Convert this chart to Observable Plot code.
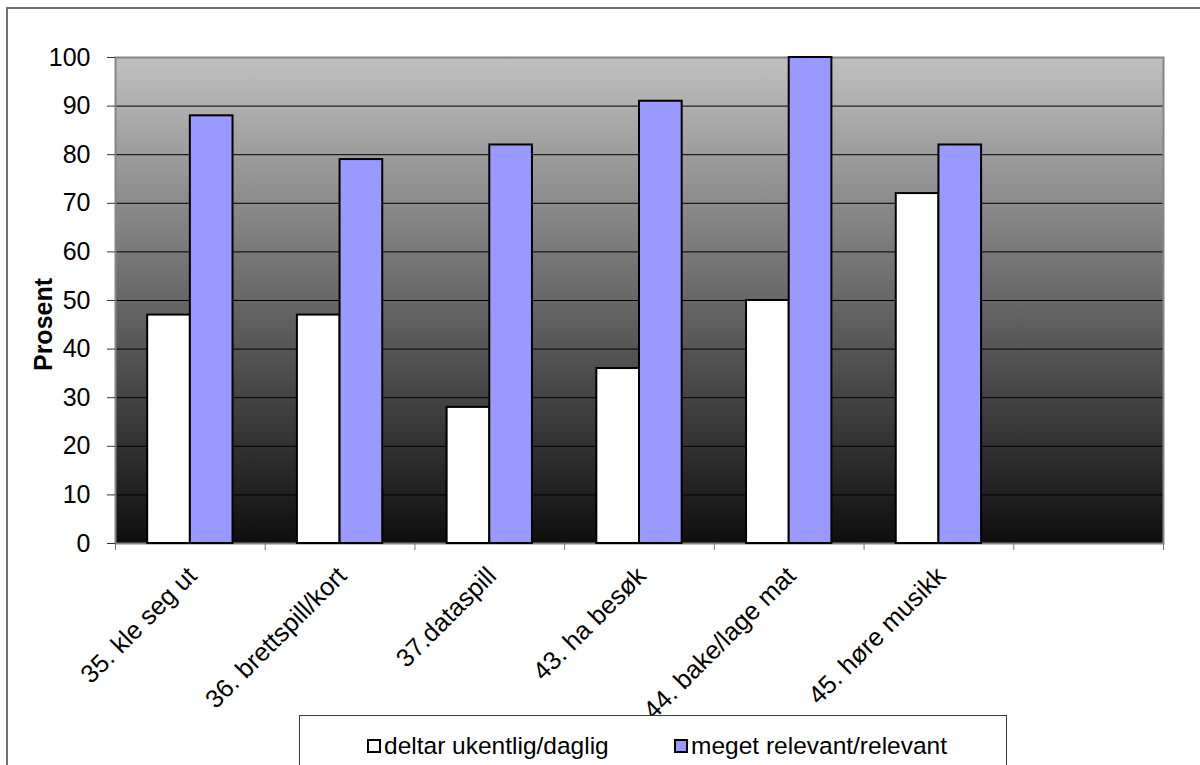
<!DOCTYPE html>
<html>
<head>
<meta charset="utf-8">
<script src="https://cdn.jsdelivr.net/npm/d3@7"></script>
<script src="https://cdn.jsdelivr.net/npm/@observablehq/plot@0.6"></script>
<style>
  html, body { margin: 0; padding: 0; background: #fff; width: 1200px; height: 765px; overflow: hidden; }
  .outer { position: absolute; left: 6px; top: 7px; width: 1300px; height: 900px; border: 2px solid #707070; box-sizing: border-box; }
  #chart { position: absolute; left: 0; top: 0; }
  .legend { position: absolute; left: 299px; top: 715px; width: 708px; height: 90px; box-sizing: border-box;
            border: 1px solid #3a3a3a; background: #fff; font-family: "Liberation Sans", Arial, sans-serif; font-size: 24.5px; color: #000; }
  .item { position: absolute; top: 16px; line-height: 28px; display: flex; align-items: center; white-space: nowrap; }
  .sw { width: 10px; height: 10px; border: 2px solid #000; margin-right: 3px; flex: none; }
</style>
</head>
<body>
<div class="outer"></div>
<div id="chart"></div>
<div class="legend" id="legend"></div>
<script>
// Activities and the two answer groups (percent)
const categories = ["35. kle seg ut", "36. brettspill/kort", "37.dataspill", "43. ha besøk", "44. bake/lage mat", "45. høre musikk", ""];
const series = ["deltar ukentlig/daglig", "meget relevant/relevant"];
const weekly = [47, 47, 28, 36, 50, 72];
const relevant = [88, 79, 82, 91, 100, 82];
const yTicks = [0, 10, 20, 30, 40, 50, 60, 70, 80, 90, 100];
const seriesColors = ["#ffffff", "#9999ff"];

// Long table: one row per bar; each category occupies one unit on x,
// the two bars sit side by side around the unit's centre.
const rows = [];
weekly.forEach((v, i) => rows.push({cat: categories[i], idx: i, series: series[0], value: v, x1: i + 0.215, x2: i + 0.5}));
relevant.forEach((v, i) => rows.push({cat: categories[i], idx: i, series: series[1], value: v, x1: i + 0.5, x2: i + 0.785}));

const font = "Liberation Sans, Arial, sans-serif";

const svg = Plot.plot({
  width: 1200,
  height: 700,
  marginLeft: 115,
  marginRight: 37,
  marginTop: 57,
  marginBottom: 157,
  style: {fontFamily: font, fontSize: "25px", color: "#000", background: "transparent", overflow: "visible"},
  x: {domain: [0, categories.length], axis: null},
  y: {domain: [0, 100], axis: null},
  color: {type: "ordinal", domain: series, range: seriesColors},
  marks: [
    Plot.frame({fill: "url(#plotBg)", stroke: "none"}),
    Plot.ruleY(yTicks.filter(d => d > 0 && d < 100), {stroke: "#000", strokeWidth: 1}),
    Plot.frame({stroke: "#858585", strokeWidth: 2}),
    Plot.rectY(rows, {x1: "x1", x2: "x2", y1: 0, y2: "value", fill: "series", stroke: "#000", strokeWidth: 2}),
    Plot.axisY({ticks: yTicks, tickSize: 8, tickPadding: 17, fontSize: 25, stroke: "#333", label: null}),
    Plot.axisX({ticks: d3.range(0, categories.length + 1), tickSize: 7, tickFormat: () => "", stroke: "#777", label: null}),
    Plot.text(categories, {x: (d, i) => i + 0.5, y: 0, rotate: -45, textAnchor: "end", lineAnchor: "bottom",
                           dx: 8, dy: 34, fontSize: 25.5, fill: "#000"}),
    Plot.text(["Prosent"], {frameAnchor: "left", rotate: -90, textAnchor: "middle", dx: -72, dy: 24,
                            fontWeight: "bold", fontSize: 25, fill: "#000"})
  ]
});

// Vertical grey-to-black fill for the plot area
const defs = document.createElementNS("http://www.w3.org/2000/svg", "defs");
defs.innerHTML = '<linearGradient id="plotBg" x1="0" y1="0" x2="0" y2="1">' +
  '<stop offset="0" stop-color="#c0c0c0"/><stop offset="1" stop-color="#0e0e0e"/></linearGradient>';
svg.prepend(defs);
document.getElementById("chart").appendChild(svg);

// Legend box
const legend = document.getElementById("legend");
const itemLeft = [67, 374];
series.forEach((s, i) => {
  const item = document.createElement("div");
  item.className = "item";
  item.style.left = itemLeft[i] + "px";
  const sw = document.createElement("span");
  sw.className = "sw";
  sw.style.background = seriesColors[i];
  const label = document.createElement("span");
  label.textContent = s;
  item.appendChild(sw);
  item.appendChild(label);
  legend.appendChild(item);
});
</script>
</body>
</html>
